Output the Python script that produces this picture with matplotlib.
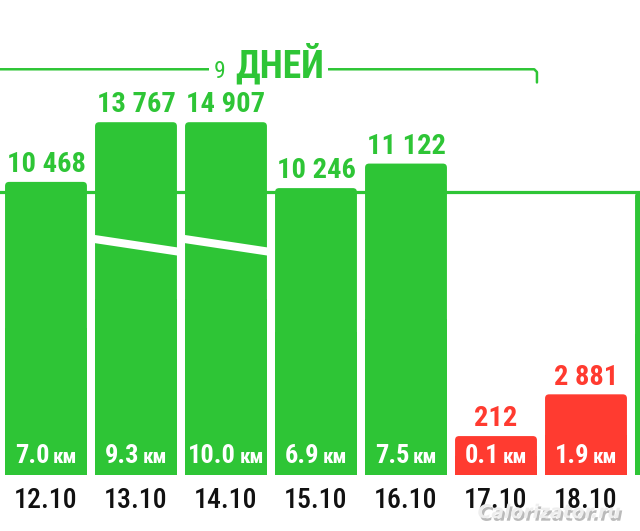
import matplotlib
matplotlib.use('Agg')
import matplotlib.pyplot as plt
import matplotlib.patheffects as pe
import matplotlib.font_manager as fm
from matplotlib.patches import FancyBboxPatch
from matplotlib.offsetbox import TextArea, HPacker, AnnotationBbox

# узкий шрифт, если есть; иначе Roboto
names = {f.name for f in fm.fontManager.ttflist}
font = 'Roboto'
for cand in ['Roboto Condensed', 'Liberation Sans Narrow', 'Open Sans Condensed']:
    if cand in names:
        font = cand
        break
plt.rcParams['font.family'] = [font, 'DejaVu Sans']

# данные: шаги и километры по дням
dates = ['12.10', '13.10', '14.10', '15.10', '16.10', '17.10', '18.10', '19.10']
steps = [10468, 13767, 14907, 10246, 11122, 212, 2881, 10100]
km = ['7.0', '9.3', '10.0', '6.9', '7.5', '0.1', '1.9', '']
goal = 10100        # линия цели
cap = 12600         # обрезка высоких столбиков
min_h = 1390        # минимальная высота столбика (чтобы влезла подпись)
period_label = 'ДНЕЙ'
period_days = '9'

GREEN = '#2ec536'
RED = '#ff3b30'

fig = plt.figure(figsize=(6.4, 5.31), dpi=100)
ax = fig.add_axes([0, 0, 1, 1])
ax.set_xlim(-0.511, 6.6)
ax.set_ylim(-2000, 16964)
ax.axis('off')

x = list(range(len(steps)))
shown = [min(max(s, min_h), cap) for s in steps]
colors = [GREEN if s >= goal else RED for s in steps]
width = 0.91

# линия цели за столбиками
ax.axhline(goal, color=GREEN, lw=2.3, zorder=1)

# квадратное основание столбиков
bars = ax.bar(x, [h / 2 for h in shown], width=width, color=colors, zorder=2)

# скруглённый верх
rx = 0.045
ry = 145
for rect, h, c in zip(bars, shown, colors):
    p = FancyBboxPatch((rect.get_x(), 0), rect.get_width(), h,
                       boxstyle=f'round,pad=0,rounding_size={rx}',
                       mutation_aspect=ry / rx, fc=c, ec='none', zorder=2)
    ax.add_patch(p)

# разрыв на обрезанных столбиках
for i, s in enumerate(steps):
    if s > cap:
        ax.plot([i - width / 2 - 0.01, i + width / 2 + 0.01], [8430, 7980],
                color='white', lw=5.8, solid_capstyle='butt', zorder=3)

# подписи значений, км и даты
for i, (s, h, c) in enumerate(zip(steps, shown, colors)):
    label = f'{s:,}'.replace(',', ' ')
    ax.annotate(label, (i, h), xytext=(0, 7), textcoords='offset points',
                ha='center', va='baseline', fontsize=20.5, fontweight='bold',
                color=c, zorder=4)
    ax.annotate(dates[i], (i, 0), xytext=(0, -24), textcoords='offset points',
                ha='center', va='baseline', fontsize=20, fontweight='medium',
                color='#111111')
    if km[i]:
        num = TextArea(km[i], textprops=dict(color='white', fontsize=19,
                                             fontweight='bold'))
        unit = TextArea('км', textprops=dict(color='white', fontsize=15,
                                             fontweight='bold'))
        box = HPacker(children=[num, unit], align='baseline', pad=0, sep=2.5)
        ab = AnnotationBbox(box, (i, 0), xybox=(0, 5), boxcoords='offset points',
                            box_alignment=(0.5, 0), frameon=False, zorder=5)
        ax.add_artist(ab)

# скобка "9 ДНЕЙ"
br_y = 14490
br_end = 5 + width / 2
x0 = ax.get_xlim()[0]
ax.plot([x0, br_end - 0.03, br_end, br_end], [br_y, br_y, br_y - 100, br_y - 470],
        color=GREEN, lw=1.8, solid_joinstyle='round', solid_capstyle='round')
t1 = TextArea(period_days, textprops=dict(color=GREEN, fontsize=17))
t2 = TextArea(period_label, textprops=dict(color=GREEN, fontsize=27,
                                           fontweight='bold'))
hb = HPacker(children=[t1, t2], align='baseline', pad=0, sep=7)
ab = AnnotationBbox(hb, ((x0 + br_end) / 2 + 0.0, br_y), box_alignment=(0.5, 0.4),
                    frameon=True, pad=0.3,
                    bboxprops=dict(fc='white', ec='none'), zorder=6)
ax.add_artist(ab)

# водяной знак
fig.text(0.858, 0.035, 'Calorizator.ru', ha='center', va='center', fontsize=13.5,
         fontweight='bold', style='italic', color='#eeeeee', family='DejaVu Sans',
         path_effects=[pe.withSimplePatchShadow(offset=(1.5, -2), shadow_rgbFace='#777777', alpha=0.5)],
         zorder=10)

fig.savefig('out.png', dpi=100)
